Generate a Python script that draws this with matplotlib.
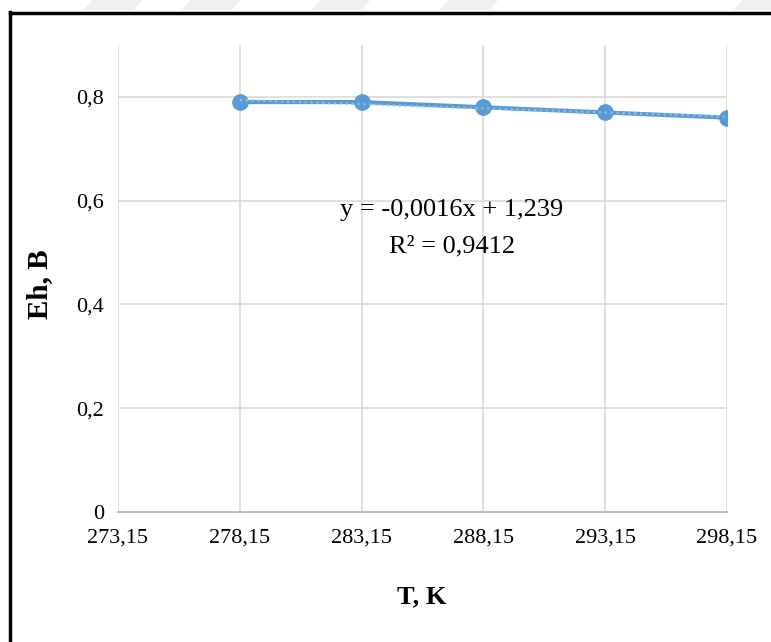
import numpy as np
import matplotlib.pyplot as plt
from matplotlib.lines import Line2D
from matplotlib.patches import Polygon

# temperature, K and measured Eh, B
T = [278.15, 283.15, 288.15, 293.15, 298.15]
Eh = [0.79, 0.79, 0.78, 0.77, 0.76]
x_ticks = [273.15, 278.15, 283.15, 288.15, 293.15, 298.15]
x_labels = ['273,15', '278,15', '283,15', '288,15', '293,15', '298,15']
y_ticks = [0, 0.2, 0.4, 0.6, 0.8]
y_labels = ['0', '0,2', '0,4', '0,6', '0,8']

blue = '#5B9BD5'
grid = '#D9D9D9'
serif = ['Liberation Serif', 'DejaVu Serif']

fig = plt.figure(figsize=(7.71, 6.42), dpi=100)
W, H = 771, 642
ax = fig.add_axes([118 / W, 1 - 512 / H, (727 - 118) / W, (512 - 45) / H])

# linear trend
k, b = np.polyfit(T, Eh, 1)
pred = np.polyval([k, b], T)
r2 = 1 - np.sum((np.array(Eh) - pred) ** 2) / np.sum((np.array(Eh) - np.mean(Eh)) ** 2)

ax.plot(T, Eh, color=blue, lw=3, marker='o', ms=11, zorder=3)
ax.plot(T, pred, color='#8FBCE6', lw=1.6, ls=':', zorder=4)

ax.set_xlim(273.15, 298.15)
ax.set_ylim(0, 0.9)
ax.set_xticks(x_ticks)
ax.set_xticklabels(x_labels, fontsize=16, family=serif)
ax.set_yticks(y_ticks)
ax.set_yticklabels(y_labels, fontsize=16, family=serif)
ax.tick_params(axis='x', length=0, pad=12)
ax.tick_params(axis='y', length=0, pad=10)

ax.grid(True, color=grid, lw=1.2)
ax.set_axisbelow(True)
for s in ['top', 'right', 'left']:
    ax.spines[s].set_visible(False)
ax.spines['bottom'].set_color('#BFBFBF')
ax.spines['bottom'].set_linewidth(1.5)

eq = 'y = ' + f'{k:.4f}'.replace('.', ',') + 'x + ' + f'{b:.3f}'.replace('.', ',')
ax.text(286.85, 0.582, eq, fontsize=19, family=serif, ha='center', va='center')
ax.text(286.85, 0.511, 'R² = ' + f'{r2:.4f}'.replace('.', ','), fontsize=19,
        family=serif, ha='center', va='center')

fig.text(422 / W, 1 - 597 / H, 'T, K', fontsize=19, fontweight='bold',
         family=serif, ha='center', va='center')
fig.text(40 / W, 1 - 284 / H, 'Eh, B', fontsize=21, fontweight='bold',
         family=serif, ha='center', va='center', rotation=90)

# outer frame
fig.add_artist(Line2D([10 / W, 10 / W], [0, 1 - 12 / H], color='black', lw=2.5,
                      transform=fig.transFigure))
fig.add_artist(Line2D([10 / W, 1], [1 - 13 / H, 1 - 13 / H], color='black', lw=2.5,
                      transform=fig.transFigure))

# faint stripes above the frame
for x0 in [92, 190, 320, 448, 742]:
    pts = [(x0 / W, 1), ((x0 + 50) / W, 1), ((x0 + 42) / W, 1 - 10 / H), ((x0 - 8) / W, 1 - 10 / H)]
    fig.add_artist(Polygon(pts, closed=True, color='#EFEFEF', transform=fig.transFigure, lw=0))

fig.savefig('out.png', dpi=100)
